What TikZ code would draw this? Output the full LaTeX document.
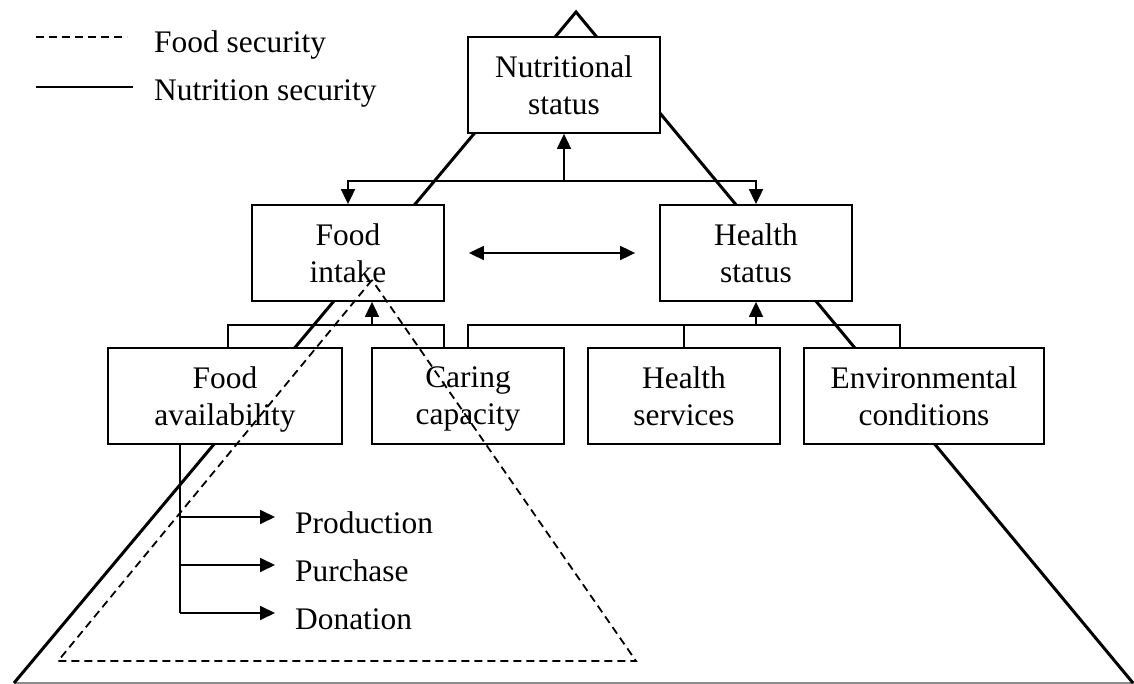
\documentclass[tikz,border=0pt]{standalone}
\usepackage{fontspec}
\setmainfont{Liberation Serif}
\usetikzlibrary{arrows.meta}
\begin{document}
\begin{tikzpicture}[x=1pt,y=-1pt,
  box/.style={draw, line width=1.8pt, fill=white, minimum height=96pt, inner sep=0pt, align=center, font=\fontsize{31.4pt}{37pt}\selectfont},
  lbl/.style={inner sep=0pt, font=\fontsize{31.4pt}{37pt}\selectfont, anchor=base west},
  ln/.style={line width=1.8pt},
  arr/.style={line width=1.8pt, -{Triangle[length=15pt,width=14pt]}},
  darr/.style={line width=1.8pt, {Triangle[length=15pt,width=14pt]}-{Triangle[length=15pt,width=14pt]}},
  nut/.style={line width=3pt},
  fsec/.style={line width=1.8pt, dash pattern=on 8pt off 5pt},
]
\useasboundingbox (0,0) rectangle (1134,684);
% nutrition security triangle
\coordinate (apex) at (576,12);
\coordinate (bl) at (14,683);
\coordinate (br) at (1133,683);
\draw[line width=2pt, black!45] (bl) -- (1134,683);
\draw[nut] (bl) -- (apex) -- (br);
% boxes
\node[box, minimum width=192pt] (ns) at (564,85) {Nutritional\\status};
\node[box, minimum width=192pt] (fi) at (348,253) {Food\\intake};
\node[box, minimum width=192pt] (hs) at (756,253) {Health\\status};
\node[box, minimum width=234pt] (fa) at (225,396) {Food\\\smash{availability}};
\node[box, minimum width=192pt] (cc) at (468,396) {Caring\\\smash{capacity}};
\node[box, minimum width=192pt] (hsv) at (684,396) {Health\\services};
\node[box, minimum width=240pt] (ec) at (924,396) {Environmental\\conditions};
% top connectors
\coordinate (j1) at (564,181);
\draw[arr] (j1) -- (ns.south);
\draw[arr] (j1) -| (fi.north);
\draw[arr] (j1) -| (hs.north);
\draw[darr] ([xshift=24pt]fi.east) -- ([xshift=-24pt]hs.west);
% food intake bracket
\coordinate (j2) at (372,325);
\coordinate (fiL) at (228,325);
\coordinate (fiR) at (444,325);
\draw[arr] (j2) -- (j2 |- fi.south);
\draw[ln] (fa.north -| fiL) -- (fiL) -- (fiR) -- (cc.north -| fiR);
% health status bracket
\coordinate (j3) at (756,325);
\coordinate (hsL) at (468,325);
\coordinate (hsR) at (900,325);
\draw[arr] (j3) -- (hs.south);
\draw[ln] (cc.north) -- (hsL) -- (hsR) -- (ec.north -| hsR);
\draw[ln] (hsv.north) -- (hsv.north |- hsL);
% food availability list
\node[lbl] (prod) at (295,533) {Production};
\node[lbl] (purch) at (295,581) {Purchase};
\node[lbl] (don) at (295,629) {Donation};
\coordinate (t1) at (180,517);
\coordinate (t2) at (180,565);
\coordinate (t3) at (180,613);
\coordinate (e1) at (275,517);
\coordinate (e2) at (275,565);
\coordinate (e3) at (275,613);
\draw[ln] (fa.south -| t1) -- (t3);
\draw[arr] (t1) -- (e1);
\draw[arr] (t2) -- (e2);
\draw[arr] (t3) -- (e3);
% food security triangle
\coordinate (da) at (372,280);
\coordinate (dl) at (58,661);
\coordinate (dr) at (636,661);
\draw[fsec] (da) -- (dl) -- (dr) -- cycle;
% legend
\coordinate (lg1a) at (36,37);
\coordinate (lg1b) at (127,37);
\coordinate (lg2a) at (36,87);
\coordinate (lg2b) at (133,87);
\draw[fsec] (lg1a) -- (lg1b);
\draw[ln] (lg2a) -- (lg2b);
\node[lbl] (lfs) at (154,53) {Food security};
\node[lbl] (lns) at (154,101) {Nutrition security};
\end{tikzpicture}
\end{document}
